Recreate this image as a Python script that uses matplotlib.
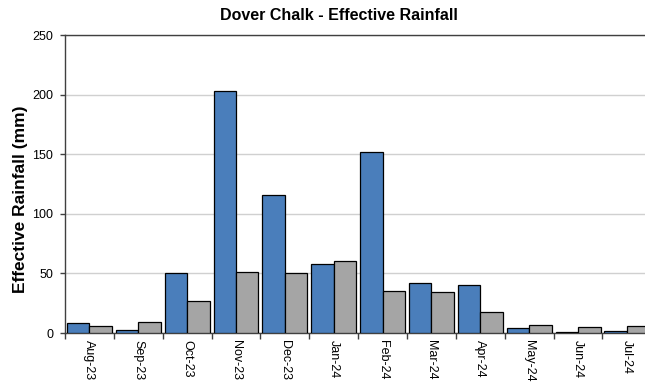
import numpy as np
import matplotlib
matplotlib.use("Agg")
from matplotlib import pyplot as plt

plt.rcParams['font.family'] = ['Liberation Sans', 'DejaVu Sans']

months = ["Aug-23", "Sep-23", "Oct-23", "Nov-23", "Dec-23", "Jan-24",
          "Feb-24", "Mar-24", "Apr-24", "May-24", "Jun-24", "Jul-24"]
actual = [8, 2.3, 50, 203, 116, 58, 152, 42, 40.5, 4, 0.5, 1.5]
lta = [6, 9, 27, 51.5, 50.5, 60, 35.5, 34, 17.5, 7, 5, 6]

fig = plt.figure(figsize=(6.45, 3.87), dpi=100)
ax = fig.add_axes([0.1008, 0.1395, 0.909, 0.770])

x = np.arange(len(months))
w = 0.46
ax.bar(x - w / 2, actual, w, color='#4a7ebb', edgecolor='black', linewidth=0.9, zorder=3)
ax.bar(x + w / 2, lta, w, color='#a5a5a5', edgecolor='black', linewidth=0.9, zorder=3)

ax.set_xlim(-0.5, len(months) - 0.5)
ax.set_ylim(0, 250)
ax.set_yticks(np.arange(0, 251, 50))
ax.yaxis.grid(True, color='#d0d0d0', linewidth=1, zorder=0)

# ticks between categories, labels centred
ax.set_xticks(np.arange(-0.5, len(months), 1))
ax.set_xticklabels([])
ax.set_xticks(x, minor=True)
ax.set_xticklabels(months, minor=True, rotation=-90, fontsize=9, va='top')
ax.tick_params(axis='x', which='minor', length=0, pad=5)
ax.tick_params(axis='x', which='major', length=4, width=1, direction='out', color='#404040')
ax.tick_params(axis='y', length=3.6, width=1, direction='out', labelsize=9, color='#404040', pad=5)

for s in ax.spines.values():
    s.set_color('#404040')
    s.set_linewidth(1)

ax.set_ylabel("Effective Rainfall (mm)", fontsize=12.5, fontweight='bold')
ax.yaxis.set_label_coords(-0.063, 0.45)
fig.text(0.5256, 0.9496, "Dover Chalk - Effective Rainfall", ha='center', va='baseline',
         fontsize=11.5, fontweight='bold')

fig.savefig("out.png", dpi=100)
